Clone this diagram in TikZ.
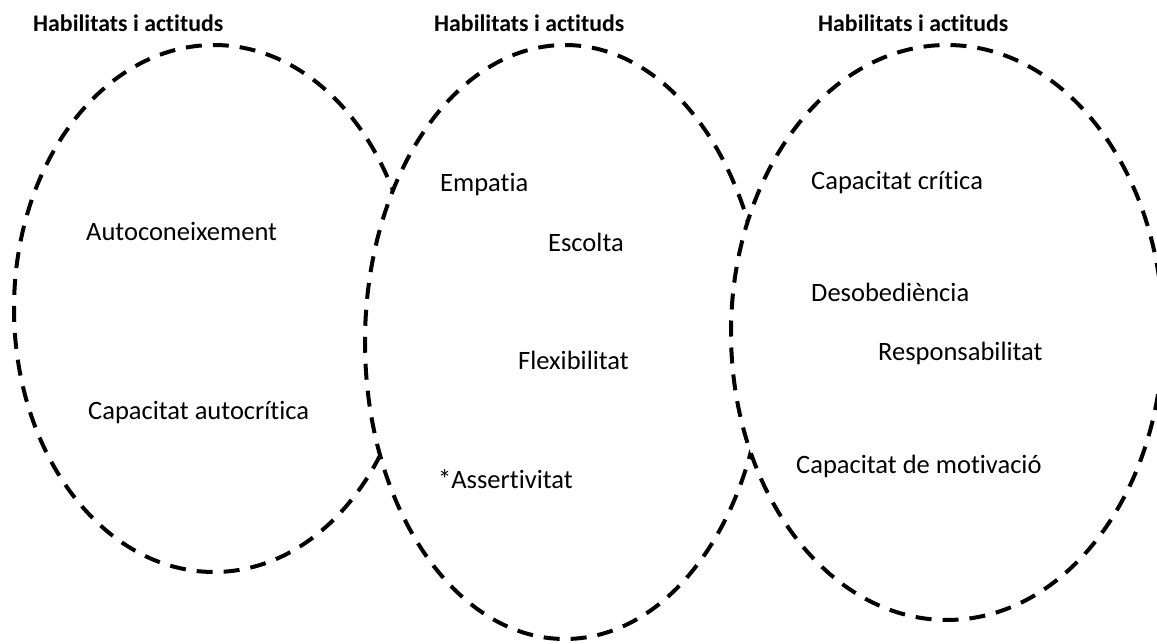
\documentclass[tikz,border=0pt]{standalone}
\usepackage{fontspec}
\setmainfont{Carlito}[Ligatures={NoCommon,NoContextual,NoRare}]
\begin{document}
\begin{tikzpicture}[x=1pt,y=1pt,
  ell/.style={draw=black, fill=white, line width=4pt, dash pattern=on 16pt off 11pt},
  lbl/.style={anchor=base west, inner sep=0pt, font=\fontsize{26.5}{32}\selectfont},
  ttl/.style={anchor=base west, inner sep=0pt, font=\fontsize{23.8}{28}\selectfont\bfseries}]
\useasboundingbox (0,0) rectangle (1157,-644);
\fill[white] (0,0) rectangle (1157,-644);
\clip (0,0) rectangle (1157,-644);
% circles (later ones cover earlier ones)
\path[ell] (214,-308.5) ellipse [x radius=200pt, y radius=263.5pt];
\path[ell] (565,-342) ellipse [x radius=200pt, y radius=297pt];
\path[ell] (947,-332.5) ellipse [x radius=216pt, y radius=287.5pt];
% titles
\node[ttl] (t1) at (33,-32) {Habilitats i actituds};
\node[ttl] (t2) at (434,-32) {Habilitats i actituds};
\node[ttl] (t3) at (818,-32) {Habilitats i actituds};
% circle 1
\node[lbl] (a1) at (86,-241) {Autoconeixement};
\node[lbl] (a2) at (88,-419) {Capacitat autocrítica};
% circle 2
\node[lbl] (b1) at (440,-192) {Empatia};
\node[lbl] (b2) at (548,-252) {Escolta};
\node[lbl] (b3) at (518,-370) {Flexibilitat};
\node[lbl] (b4) at (438,-488) {*Assertivitat};
% circle 3
\node[lbl] (c1) at (811,-190) {Capacitat crítica};
\node[lbl] (c2) at (811,-302) {Desobediència};
\node[lbl] (c3) at (878,-361) {Responsabilitat};
\node[lbl] (c4) at (796,-473) {Capacitat de motivació};
\end{tikzpicture}
\end{document}
